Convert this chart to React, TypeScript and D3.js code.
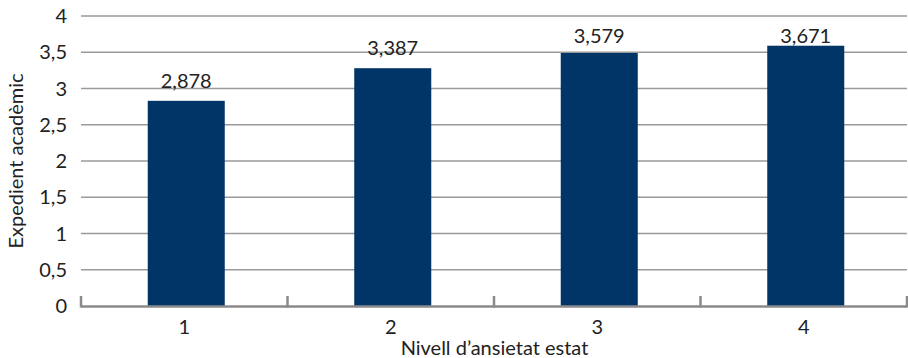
import React from "react";
import * as d3 from "d3";

const categories = ["1", "2", "3", "4"];
const barValues = [2.83, 3.28, 3.49, 3.59];
const valueLabels = ["2,878", "3,387", "3,579", "3,671"];
const yTicks = [0, 0.5, 1, 1.5, 2, 2.5, 3, 3.5, 4];
const yTickLabels = ["0", "0,5", "1", "1,5", "2", "2,5", "3", "3,5", "4"];
const xTitle = "Nivell d\u2019ansietat estat";
const yTitle = "Expedient acadèmic";

const W = 908;
const H = 358;
const margin = { left: 81, right: 1, top: 16, bottom: 52 };
const FONT = "Lato, 'Open Sans', sans-serif";

export default function App() {
  const band = d3.scaleBand<string>().domain(categories).range([margin.left, W - margin.right]);
  const barW = band.bandwidth() * 0.373;
  const y = d3.scaleLinear().domain([0, 4]).range([H - margin.bottom, margin.top]);
  const y0 = y(0);
  const tickXs = [margin.left, ...categories.map((c) => (band(c) as number) + band.bandwidth())];

  return (
    <svg
      width={W}
      height={H}
      style={{ position: "absolute", left: 0, top: 0, background: "#fff" }}
      fontFamily={FONT}
    >
      {yTicks.slice(1).map((t) => (
        <line key={t} x1={margin.left} x2={W - 1} y1={y(t)} y2={y(t)} stroke="#9a9a9a" strokeWidth={1.5} />
      ))}
      {yTicks.map((t, i) => (
        <text key={"yl" + t} x={67} y={y(t)} dy="0.36em" textAnchor="end" fontSize={20} fill="#222">
          {yTickLabels[i]}
        </text>
      ))}
      {categories.map((c, i) => {
        const top = y(barValues[i]);
        const cx = (band(c) as number) + band.bandwidth() / 2;
        const bx = cx + 2;
        const ly = Math.max(top - 13, 43);
        return (
          <g key={c}>
            <rect x={bx - barW / 2} y={top} width={barW} height={y0 - top} fill="#023567" />
            <text x={bx} y={ly} textAnchor="middle" fontSize={20} fill="#222">
              {valueLabels[i]}
            </text>
            <text x={cx} y={334} textAnchor="middle" fontSize={20} fill="#222">
              {c}
            </text>
          </g>
        );
      })}
      <line x1={margin.left} x2={W - 1} y1={y0 + 0.5} y2={y0 + 0.5} stroke="#8a8a8a" strokeWidth={2.5} />
      {tickXs.map((tx, i) => (
        <line key={"t" + i} x1={tx} x2={tx} y1={y0 + 1.5} y2={y0 - 10} stroke="#8a8a8a" strokeWidth={2.5} />
      ))}
      <text x={(margin.left + W) / 2} y={355} textAnchor="middle" fontSize={20} fill="#222">
        {xTitle}
      </text>
      <text
        transform={`translate(23, ${(margin.top + y0) / 2}) rotate(-90)`}
        textAnchor="middle"
        fontSize={20}
        fill="#222"
      >
        {yTitle}
      </text>
    </svg>
  );
}
